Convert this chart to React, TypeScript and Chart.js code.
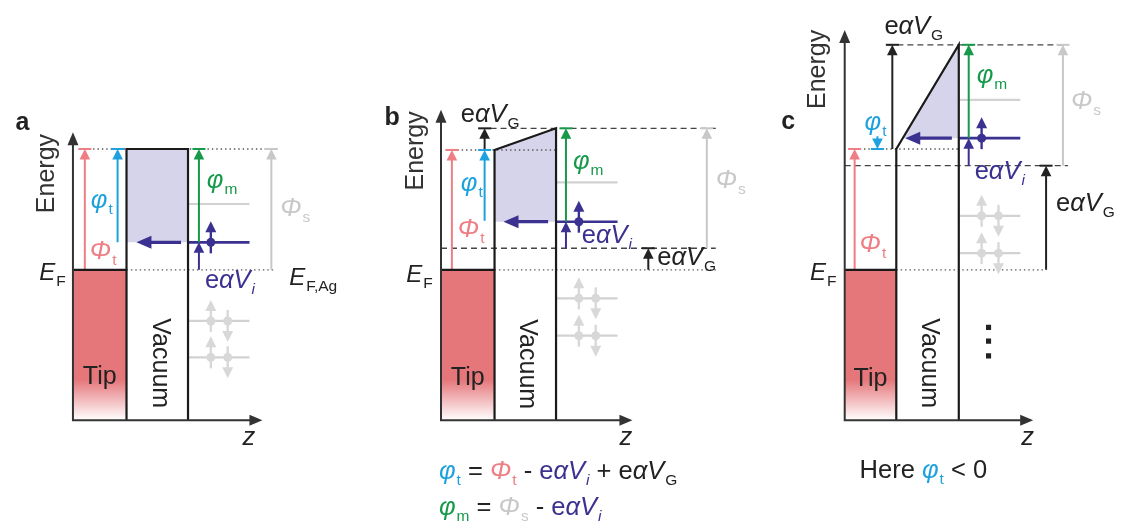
import React, { useEffect, useRef } from 'react';
import { Chart, registerables } from 'chart.js';

Chart.register(...registerables);

const W = 1123;
const H = 524;
const FONT = '"Liberation Sans", Arial, Helvetica, sans-serif';

const COLORS: Record<string, string> = {
  pink: '#EE7E83',
  tip: '#E5777B',
  blue: '#1DA1DF',
  green: '#17994A',
  purple: '#3B3190',
  lavender: '#D6D4EA',
  gray: '#C8C8C8',
  level: '#D2D2D2',
  electron: '#D8D8D8',
  ink: '#222222',
  guide: '#555555',
};

// ---- band-diagram geometry (energy axis points down the page) ----
const AXIS_BASE = 423;
const AXIS_X = [69, 440, 847];
const AXIS_TOP = [130, 107, 26];
const AXIS_END = [260, 633, 1037];
const TIP_EDGE = [123, 494, 899];
const SAMPLE_EDGE = [185, 556, 962];
const TIP_FERMI = 270;
const TIP_FADE = 382;
const VAC_TIP = [147, 148, 147];
const VAC_SAMPLE = [147, 126, 41];
const MOL_LEVEL = [242, 221, 136];
const GRAY_UPPER = [203, 181, 97];
const GRAY_LOWER = [
  [322, 359],
  [299, 337],
  [215, 253],
];
const LEVEL_LEN = 62;
const SPIN_OFFSETS = [23, 40];
const ELLIPSIS_X = 992;
const ELLIPSIS_Y = [328.5, 342.5, 357.5];

// guide lines: [x0, x1, y]
const DOTTED = [
  [76, 272, 147],
  [123, 272, 270],
  [452, 556, 148],
  [494, 717, 270],
  [862, 962, 147],
  [899, 1050, 270],
];
const DASHED = [
  [490, 717, 126],
  [440, 717, 248],
  [890, 1072, 41],
  [847, 1072, 164],
];

// energy arrows: [x, from, to, colour, capped]
const ARROWS: [number, number, number, string, boolean][] = [
  [81, 270, 147, 'pink', true],
  [114, 242, 147, 'blue', true],
  [196, 242, 147, 'green', true],
  [196, 270, 242, 'purple', false],
  [269, 270, 147, 'gray', true],

  [451, 270, 148, 'pink', true],
  [484, 220, 148, 'blue', true],
  [484, 148, 126, 'ink', true],
  [566, 221, 126, 'green', true],
  [566, 248, 221, 'purple', false],
  [708, 248, 126, 'gray', true],
  [649, 270, 248, 'ink', true],

  [857, 270, 147, 'pink', true],
  [880, 134, 147, 'blue', true],
  [895, 147, 41, 'ink', true],
  [972, 136, 41, 'green', true],
  [972, 164, 136, 'purple', false],
  [1067, 164, 41, 'gray', true],
  [1050, 270, 164, 'ink', true],
];

// electron transfer from molecule into the vacuum: [from, to, y]
const INJECTION = [
  [178, 133, 242],
  [548, 503, 221],
  [955, 908, 136],
];

type Run = { t: string; c?: string; i?: boolean; s?: boolean; b?: boolean };
type Label = { x: number; y: number; runs: Run[]; size?: number };

const sym = (base: string, sub: string, c: string): Run[] => [
  { t: base, c, i: true },
  { t: sub, c, s: true },
];
const eaV = (sub: string, c: string, subItalic: boolean): Run[] => [
  { t: 'e', c },
  { t: 'αV', c, i: true },
  { t: sub, c, s: true, i: subItalic },
];
const fermi = (sub: string): Run[] => [
  { t: 'E', c: COLORS.ink, i: true },
  { t: sub, c: COLORS.ink, s: true },
];
const op = (t: string): Run => ({ t, c: COLORS.ink });

const LABELS: Label[] = [
  { x: 11, y: 128, runs: [{ t: 'a', b: true }], size: 25 },
  { x: 383, y: 123, runs: [{ t: 'b', b: true }], size: 25 },
  { x: 783, y: 127, runs: [{ t: 'c', b: true }], size: 25 },

  { x: 87, y: 207, runs: sym('φ', 't', COLORS.blue) },
  { x: 86, y: 259, runs: sym('Φ', 't', COLORS.pink) },
  { x: 204, y: 187, runs: sym('φ', 'm', COLORS.green) },
  { x: 278, y: 215, runs: sym('Φ', 's', COLORS.gray) },
  { x: 202, y: 288, runs: eaV('i', COLORS.purple, true) },
  { x: 35, y: 280, runs: fermi('F'), size: 24 },
  { x: 287, y: 285, runs: fermi('F,Ag'), size: 24 },

  { x: 460, y: 120, runs: eaV('G', COLORS.ink, false) },
  { x: 460, y: 190, runs: sym('φ', 't', COLORS.blue) },
  { x: 457, y: 237, runs: sym('Φ', 't', COLORS.pink) },
  { x: 573, y: 167, runs: sym('φ', 'm', COLORS.green) },
  { x: 717, y: 187, runs: sym('Φ', 's', COLORS.gray) },
  { x: 582, y: 243, runs: eaV('i', COLORS.purple, true) },
  { x: 658, y: 265, runs: eaV('G', COLORS.ink, false) },
  { x: 405, y: 282, runs: fermi('F'), size: 24 },

  { x: 887, y: 30, runs: eaV('G', COLORS.ink, false) },
  { x: 867, y: 128, runs: sym('φ', 't', COLORS.blue) },
  { x: 862, y: 252, runs: sym('Φ', 't', COLORS.pink) },
  { x: 980, y: 80, runs: sym('φ', 'm', COLORS.green) },
  { x: 1075, y: 106, runs: sym('Φ', 's', COLORS.gray) },
  { x: 978, y: 178, runs: eaV('i', COLORS.purple, true) },
  { x: 1060, y: 210, runs: eaV('G', COLORS.ink, false) },
  { x: 812, y: 280, runs: fermi('F'), size: 24 },

  { x: 240, y: 448, runs: [{ t: 'z', i: true }] },
  { x: 620, y: 448, runs: [{ t: 'z', i: true }] },
  { x: 1025, y: 448, runs: [{ t: 'z', i: true }] },

  {
    x: 438,
    y: 483,
    runs: [
      ...sym('φ', 't', COLORS.blue),
      op(' = '),
      ...sym('Φ', 't', COLORS.pink),
      op(' - '),
      ...eaV('i', COLORS.purple, true),
      op(' + '),
      ...eaV('G', COLORS.ink, false),
    ],
  },
  {
    x: 438,
    y: 519,
    runs: [
      ...sym('φ', 'm', COLORS.green),
      op(' = '),
      ...sym('Φ', 's', COLORS.gray),
      op(' - '),
      ...eaV('i', COLORS.purple, true),
    ],
  },
  { x: 862, y: 482, runs: [op('Here '), ...sym('φ', 't', COLORS.blue), op(' < 0')] },
];

// rotated captions: [text, x, y, angle]
const ROTATED: [string, number, number, number][] = [
  ['Energy', 50, 172, -Math.PI / 2],
  ['Energy', 422, 149, -Math.PI / 2],
  ['Energy', 827, 66, -Math.PI / 2],
  ['Vacuum', 150, 365, Math.PI / 2],
  ['Vacuum', 520, 366, Math.PI / 2],
  ['Vacuum', 925, 365, Math.PI / 2],
];
const TIP_TEXT_Y = [386, 387, 388];

type Pt = { x: number; y: number };

function line(pts: Pt[], color: string, width: number, dash: number[] = [], extra: any = {}) {
  return {
    data: pts,
    borderColor: color,
    borderWidth: width,
    borderDash: dash,
    showLine: true,
    pointRadius: 0,
    fill: false,
    tension: 0,
    borderJoinStyle: 'miter',
    ...extra,
  };
}

function tipGradient(ctx: any) {
  const chart = ctx.chart;
  const ys = chart && chart.scales && chart.scales.y;
  if (!ys) return COLORS.tip;
  const y0 = ys.getPixelForValue(TIP_FADE);
  const y1 = ys.getPixelForValue(AXIS_BASE);
  if (!Number.isFinite(y0) || !Number.isFinite(y1) || y0 === y1) return COLORS.tip;
  const g = chart.ctx.createLinearGradient(0, y0, 0, y1);
  g.addColorStop(0, COLORS.tip);
  g.addColorStop(1, '#ffffff');
  return g;
}

function buildDatasets() {
  const ds: any[] = [];

  // tip metal, fading out at the bottom
  for (let i = 0; i < 3; i++) {
    ds.push(
      line(
        [
          { x: AXIS_X[i], y: TIP_FERMI },
          { x: TIP_EDGE[i], y: TIP_FERMI },
        ],
        'rgba(0,0,0,0)',
        0,
        [],
        { fill: { value: AXIS_BASE }, backgroundColor: tipGradient }
      )
    );
  }

  // lavender tunnelling region under the barrier
  for (let i = 0; i < 3; i++) {
    const y0 = VAC_TIP[i];
    const y1 = VAC_SAMPLE[i];
    const lvl = MOL_LEVEL[i];
    let start: Pt = { x: TIP_EDGE[i], y: y0 };
    if (lvl < y0) {
      const f = (y0 - lvl) / (y0 - y1);
      start = { x: TIP_EDGE[i] + f * (SAMPLE_EDGE[i] - TIP_EDGE[i]), y: lvl };
    }
    ds.push(
      line([start, { x: SAMPLE_EDGE[i], y: y1 }], 'rgba(0,0,0,0)', 0, [], {
        fill: { value: lvl },
        backgroundColor: COLORS.lavender,
      })
    );
  }

  for (const [x0, x1, y] of DOTTED) {
    ds.push(line([{ x: x0, y }, { x: x1, y }], COLORS.guide, 1.4, [1.4, 3]));
  }
  for (const [x0, x1, y] of DASHED) {
    ds.push(line([{ x: x0, y }, { x: x1, y }], '#444444', 1.3, [6, 4]));
  }

  for (let i = 0; i < 3; i++) {
    const x0 = SAMPLE_EDGE[i];
    const x1 = x0 + LEVEL_LEN;
    ds.push(line([{ x: x0, y: GRAY_UPPER[i] }, { x: x1, y: GRAY_UPPER[i] }], COLORS.level, 2.2));
    for (const y of GRAY_LOWER[i]) {
      ds.push(line([{ x: x0, y }, { x: x1, y }], COLORS.level, 2.2));
    }
    ds.push(line([{ x: x0, y: MOL_LEVEL[i] }, { x: x1, y: MOL_LEVEL[i] }], COLORS.purple, 2.6));
  }

  // arrow shafts (heads drawn by the overlay plugin)
  for (const [x, from, to, col] of ARROWS) {
    const dir = Math.sign(to - from);
    ds.push(line([{ x, y: from }, { x, y: to - dir * 8 }], COLORS[col], 2));
  }
  for (const [from, to, y] of INJECTION) {
    ds.push(line([{ x: from, y }, { x: to + 12, y }], COLORS.purple, 3.2));
  }

  // tip surface, vacuum barrier and axes
  for (let i = 0; i < 3; i++) {
    ds.push(
      line(
        [
          { x: AXIS_X[i], y: TIP_FERMI },
          { x: TIP_EDGE[i], y: TIP_FERMI },
        ],
        '#1a1a1a',
        2.4
      )
    );
    ds.push(
      line(
        [
          { x: TIP_EDGE[i], y: AXIS_BASE },
          { x: TIP_EDGE[i], y: VAC_TIP[i] },
          { x: SAMPLE_EDGE[i], y: VAC_SAMPLE[i] },
          { x: SAMPLE_EDGE[i], y: AXIS_BASE },
        ],
        '#1a1a1a',
        2.2
      )
    );
    ds.push(
      line(
        [
          { x: AXIS_X[i], y: AXIS_TOP[i] + 10 },
          { x: AXIS_X[i], y: AXIS_BASE },
          { x: AXIS_END[i] - 10, y: AXIS_BASE },
        ],
        '#333333',
        2
      )
    );
  }

  // electrons
  const molDots: Pt[] = [];
  const grayDots: Pt[] = [];
  for (let i = 0; i < 3; i++) {
    molDots.push({ x: SAMPLE_EDGE[i] + SPIN_OFFSETS[0], y: MOL_LEVEL[i] });
    for (const y of GRAY_LOWER[i]) {
      for (const off of SPIN_OFFSETS) grayDots.push({ x: SAMPLE_EDGE[i] + off, y });
    }
  }
  ds.push({ data: grayDots, pointRadius: 4.5, backgroundColor: COLORS.electron, borderWidth: 0, showLine: false });
  ds.push({ data: molDots, pointRadius: 4.5, backgroundColor: COLORS.purple, borderWidth: 0, showLine: false });
  ds.push({
    data: ELLIPSIS_Y.map((y) => ({ x: ELLIPSIS_X, y })),
    pointStyle: 'rect',
    pointRadius: 3.6,
    backgroundColor: '#222222',
    borderWidth: 0,
    showLine: false,
  });

  return ds.map((d, i) => ({ ...d, order: -i }));
}

function head(ctx: CanvasRenderingContext2D, x: number, y: number, dx: number, dy: number, len: number, half: number, color: string) {
  ctx.beginPath();
  ctx.moveTo(x, y);
  ctx.lineTo(x - dx * len - dy * half, y - dy * len + dx * half);
  ctx.lineTo(x - dx * len + dy * half, y - dy * len - dx * half);
  ctx.closePath();
  ctx.fillStyle = color;
  ctx.fill();
}

function drawRuns(ctx: CanvasRenderingContext2D, x: number, y: number, runs: Run[], size = 25.5) {
  let cx = x;
  ctx.textAlign = 'left';
  ctx.textBaseline = 'alphabetic';
  for (const r of runs) {
    const fs = r.s ? 15.5 : size;
    ctx.font = `${r.i ? 'italic ' : ''}${r.b ? 'bold ' : ''}${fs}px ${FONT}`;
    ctx.fillStyle = r.c || COLORS.ink;
    ctx.fillText(r.t, cx, y + (r.s ? 6 : 0));
    cx += ctx.measureText(r.t).width + (r.i && !r.s ? 1 : 0);
  }
}

const overlay = {
  id: 'bandOverlay',
  afterDatasetsDraw(chart: any) {
    const ctx: CanvasRenderingContext2D = chart.ctx;
    const X = (v: number) => chart.scales.x.getPixelForValue(v);
    const Y = (v: number) => chart.scales.y.getPixelForValue(v);
    ctx.save();

    // axis arrowheads
    for (let i = 0; i < 3; i++) {
      head(ctx, X(AXIS_X[i]), Y(AXIS_TOP[i]), 0, -1, 13, 5.5, '#333333');
      head(ctx, X(AXIS_END[i]), Y(AXIS_BASE), 1, 0, 13, 5.5, '#333333');
    }

    // energy arrows
    for (const [x, from, to, col, capped] of ARROWS) {
      const dir = Math.sign(Y(to) - Y(from));
      head(ctx, X(x), Y(to), 0, dir, 10.5, 5.3, COLORS[col]);
      if (capped) {
        ctx.fillStyle = COLORS[col];
        ctx.fillRect(X(x) - 6.5, Y(to) - 1, 13, 2);
      }
    }
    for (const [, to, y] of INJECTION) {
      head(ctx, X(to), Y(y), -1, 0, 15, 6.5, COLORS.purple);
    }

    // spins
    const spin = (x: number, y: number, up: boolean, color: string) => {
      const d = up ? -1 : 1;
      ctx.strokeStyle = color;
      ctx.lineWidth = 2.4;
      ctx.beginPath();
      ctx.moveTo(X(x), Y(y) - d * 11);
      ctx.lineTo(X(x), Y(y) + d * 12);
      ctx.stroke();
      head(ctx, X(x), Y(y) + d * 21, 0, d, 11, 5.5, color);
    };
    for (let i = 0; i < 3; i++) {
      spin(SAMPLE_EDGE[i] + SPIN_OFFSETS[0], MOL_LEVEL[i], true, COLORS.purple);
      for (const y of GRAY_LOWER[i]) {
        spin(SAMPLE_EDGE[i] + SPIN_OFFSETS[0], y, true, COLORS.electron);
        spin(SAMPLE_EDGE[i] + SPIN_OFFSETS[1], y, false, COLORS.electron);
      }
    }

    // text
    for (const l of LABELS) drawRuns(ctx, X(l.x), Y(l.y), l.runs, l.size || 25.5);

    ctx.font = `25px ${FONT}`;
    ctx.fillStyle = COLORS.ink;
    ctx.textAlign = 'center';
    ctx.textBaseline = 'alphabetic';
    for (let i = 0; i < 3; i++) {
      ctx.fillText('Tip', X((AXIS_X[i] + TIP_EDGE[i]) / 2), Y(TIP_TEXT_Y[i]));
    }
    for (const [t, x, y, a] of ROTATED) {
      ctx.save();
      ctx.translate(X(x), Y(y));
      ctx.rotate(a);
      ctx.fillStyle = t === 'Energy' ? '#333333' : COLORS.ink;
      ctx.fillText(t, 0, 0);
      ctx.restore();
    }

    ctx.restore();
  },
};

export default function App() {
  const ref = useRef<HTMLCanvasElement | null>(null);

  useEffect(() => {
    if (!ref.current) return;
    const chart = new Chart(ref.current, {
      type: 'scatter',
      data: { datasets: buildDatasets() },
      options: {
        animation: false,
        responsive: false,
        maintainAspectRatio: false,
        events: [],
        layout: { padding: 0 },
        plugins: { legend: { display: false }, tooltip: { enabled: false } },
        scales: {
          x: { type: 'linear', min: 0, max: W, display: false },
          y: { type: 'linear', min: 0, max: H, reverse: true, display: false },
        },
      },
      plugins: [overlay],
    } as any);
    return () => chart.destroy();
  }, []);

  return (
    <div style={{ position: 'fixed', left: 0, top: 0, width: W, height: H, background: '#ffffff' }}>
      <canvas ref={ref} width={W} height={H} style={{ display: 'block' }} />
    </div>
  );
}
